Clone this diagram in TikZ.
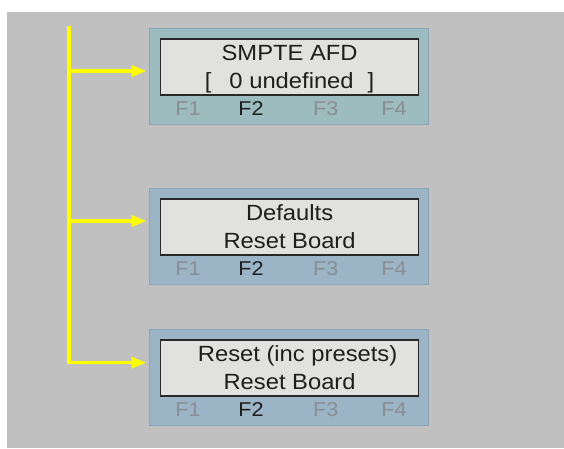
\documentclass[tikz,border=0pt]{standalone}
\usepackage{fontspec}
\setmainfont{Liberation Sans}
\newfontfamily\lcdfont[FakeStretch=1.08]{Liberation Sans}
\usetikzlibrary{positioning,arrows.meta,calc}
\definecolor{BackGray}{RGB}{192,192,192}
\definecolor{PanelTeal}{RGB}{156,188,191}
\definecolor{PanelBlue}{RGB}{155,180,198}
\definecolor{PanelEdge}{RGB}{138,164,184}
\definecolor{LcdFill}{RGB}{225,225,223}
\definecolor{LcdEdge}{RGB}{40,40,40}
\definecolor{KeyOff}{RGB}{138,142,146}
\definecolor{KeyOn}{RGB}{30,30,30}
\definecolor{BusYellow}{RGB}{255,255,0}

\begin{document}
\begin{tikzpicture}[
    x=1pt, y=-1pt,
    panel/.style={rectangle, draw=PanelEdge, line width=0.8pt, minimum width=279pt, minimum height=96pt, anchor=north west, inner sep=0pt},
    lcd/.style={rectangle, draw=LcdEdge, line width=1.6pt, fill=LcdFill, minimum width=258pt, minimum height=56pt, align=center, inner sep=0pt, text=KeyOn, font=\lcdfont\fontsize{22}{27.7}\selectfont},
    fkey/.style={text=KeyOff, inner sep=0pt, font=\lcdfont\fontsize{20}{20}\selectfont},
    fkeyon/.style={fkey, text=KeyOn},
    busline/.style={draw=BusYellow, line width=3.3pt},
    feed/.style={busline, -{Triangle[length=15pt,width=11pt]}, shorten >=2.5pt}
]
% background
\fill[white] (0,0) rectangle (564,448);
\fill[BackGray] (7,12) rectangle (564,448);
\useasboundingbox (0,0) rectangle (564,448);

% menu panels
\node[panel, fill=PanelTeal] (p1) at (149,28.3) {};
\node[panel, fill=PanelBlue] (p2) at (149,188.3) {};
\node[panel, fill=PanelBlue] (p3) at (149,329.3) {};

\node[lcd] (d1) at ($(p1.north west)+(140.6,38.4)$) {SMPTE AFD\\\smash{[}\hspace{18pt}0 undefined\hspace{14pt}\smash{]}};
\node[lcd] (d2) at ($(p2.north west)+(140.6,38.4)$) {Defaults\\Reset Board};
\node[lcd] (d3) at ($(p3.north west)+(140.6,38.4)$) {\hspace*{16pt}Reset (inc presets)\\Reset Board};

% function keys
\foreach \p in {1,2,3} {
  \foreach \k/\dx/\st in {1/39/fkey, 2/102/fkeyon, 3/176.7/fkey, 4/245/fkey}
    \node[\st] (f\p\k) at ($(p\p.north west)+(\dx,80.5)$) {F\k};
}

% yellow feed lines
\coordinate (bustop) at (69,26);
\coordinate (a1) at ($(p1.north west)+(0,42.7)$);
\coordinate (a2) at ($(p2.north west)+(0,32.7)$);
\coordinate (a3) at ($(p3.north west)+(0,33.4)$);
\draw[feed] (bustop) |- (a3);
\draw[feed] (bustop |- a1) -- (a1);
\draw[feed] (bustop |- a2) -- (a2);
\end{tikzpicture}
\end{document}
